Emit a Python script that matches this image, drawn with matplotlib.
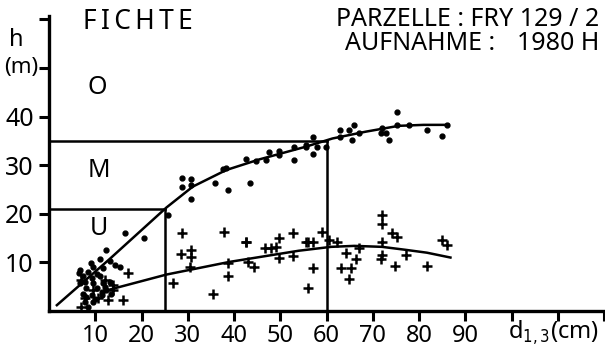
import numpy as np
import matplotlib
matplotlib.use("Agg")
import matplotlib.pyplot as plt

plt.rcParams["font.family"] = "Noto Sans"
plt.rcParams["font.stretch"] = "condensed"
plt.rcParams["font.size"] = 15

# upper points: tree heights (dots)
dot_d = [28.8, 30.7, 28.8, 30.7, 30.7, 38.6, 43.5, 35.8, 38.3, 46.9, 53.0, 37.6,
         42.6, 44.8, 47.6, 49.8, 49.8, 53.0, 55.5, 57.0, 55.5, 58.0, 57.0, 59.8,
         63.0, 63.0, 64.9, 66.0, 65.6, 67.0, 71.7, 72.8, 73.5, 75.3, 75.3, 77.8,
         81.7, 85.0, 86.0, 72.0, 25.7, 16.5, 20.5,
         12.4, 11.0, 13.1, 14.2, 15.3, 6.7, 8.5, 9.5, 10.3, 11.7, 7.4, 9.2, 11.0,
         7.8, 9.5, 11.7, 13.1, 8.1, 10.3, 12.4, 7.4, 9.2, 11.4, 13.5, 7.8, 9.5,
         8.5, 6.7, 8.0, 10.0, 12.0, 6.5, 9.0, 11.5]
dot_h = [27.3, 27.1, 25.6, 25.9, 23.0, 25.0, 26.3, 26.4, 29.4, 31.1, 31.0, 29.2,
         31.2, 30.9, 32.8, 32.9, 32.0, 33.8, 34.2, 35.7, 33.8, 33.8, 32.3, 33.8,
         35.7, 37.2, 37.2, 38.3, 35.2, 36.7, 36.7, 36.6, 35.2, 40.9, 38.3, 38.3,
         37.2, 36.1, 38.3, 37.6, 19.8, 16.0, 15.0,
         12.6, 10.8, 10.3, 9.5, 9.1, 8.4, 8.1, 9.1, 7.7, 8.8, 7.1, 6.7, 7.1,
         6.0, 5.7, 5.7, 6.0, 4.7, 4.7, 4.3, 3.6, 3.3, 3.3, 3.6, 1.9, 1.9,
         0.9, 5.8, 2.8, 2.5, 5.0, 7.8, 9.8, 4.0]

# lower points: crown base (plus)
plus_d = [28.8, 37.9, 42.5, 49.8, 52.7, 55.5, 28.6, 30.8, 30.8, 30.4, 38.6, 38.6,
          43.0, 44.4, 46.6, 48.0, 49.8, 52.7, 26.8, 35.4, 42.6, 49.0,
          55.9, 57.0, 59.1, 60.5, 62.3, 57.0, 55.9, 64.2, 63.1, 65.2, 64.9, 66.3,
          67.0, 72.0, 72.0, 72.0, 72.0, 71.7, 74.2, 75.3, 74.9, 77.1, 81.7, 85.0,
          86.0,
          17.1, 16.0, 13.9, 12.1, 7.0, 10.6, 12.8, 7.8, 7.0, 9.5, 13.9]
plus_h = [16.1, 16.3, 14.3, 15.0, 16.1, 14.3, 11.7, 12.6, 11.2, 9.1, 9.8, 7.1,
          10.1, 9.1, 12.9, 12.9, 11.0, 11.3, 5.7, 3.6, 14.3, 13.2,
          14.1, 14.1, 16.2, 14.6, 14.1, 8.8, 4.7, 11.9, 8.8, 8.8, 6.6, 10.8,
          12.9, 19.8, 17.9, 14.3, 11.5, 10.6, 16.1, 15.3, 9.3, 11.5, 9.3, 14.6,
          13.6,
          7.8, 2.3, 5.3, 6.4, 6.4, 2.6, 2.3, 2.7, 0.9, 4.3, 4.3]

# fitted curves
up_d = [1.7, 13.0, 25.4, 31.1, 38.3, 45.5, 55.5, 61.3, 68.5, 75.6, 81.0, 86.4]
up_h = [1.2, 10.6, 21.3, 25.6, 29.0, 31.2, 33.8, 35.5, 36.9, 38.1, 38.3, 38.3]
low_d = [12.7, 25.4, 39.0, 54.0, 61.0, 66.0, 72.0, 77.0, 81.7, 86.8]
low_h = [4.3, 7.5, 10.1, 12.4, 13.2, 13.4, 13.2, 12.6, 12.0, 11.0]

xticks = [10, 20, 30, 40, 50, 60, 70, 80, 90, 100, 110, 120]
xlabels = ["10", "20", "30", "40", "50", "60", "70", "80", "90", "", "", ""]
yticks = [10, 20, 30, 40, 50, 60]
ylabels = ["10", "20", "30", "40", "", ""]

fig = plt.figure(figsize=(6.05, 3.51), dpi=100)
ax = fig.add_axes([49/605, 40/351, 555/605, 295/351])
ax.set_xlim(0, 119.6)
ax.set_ylim(0, 60.7)

ax.plot(up_d, up_h, color="black", lw=1.8)
ax.plot(low_d, low_h, color="black", lw=1.8)
ax.plot(dot_d, dot_h, "o", color="black", ms=3.5)
ax.plot(plus_d, plus_h, "+", color="black", ms=7.5, mew=1.8)

# layer boundaries
ax.plot([0, 60], [35, 35], color="black", lw=1.8)
ax.plot([60, 60], [0, 35], color="black", lw=1.8)
ax.plot([0, 25], [21, 21], color="black", lw=1.8)
ax.plot([25, 25], [0, 21], color="black", lw=1.8)

ax.text(10.5, 46, "O", ha="center", va="center", fontsize=18)
ax.text(10.8, 29, "M", ha="center", va="center", fontsize=18)
ax.text(10.8, 17, "U", ha="center", va="center", fontsize=18)

for s in ["top", "right"]:
    ax.spines[s].set_visible(False)
for s in ["left", "bottom"]:
    ax.spines[s].set_linewidth(2.4)
ax.set_xticks(xticks)
ax.set_xticklabels(xlabels)
ax.set_yticks(yticks)
ax.set_yticklabels(ylabels)
ax.tick_params(axis="both", direction="out", length=7, width=2.2)
ax.tick_params(axis="x", labelsize=17, pad=2)
ax.tick_params(axis="y", labelsize=18, pad=4)

fig.text(16/605, 1 - 40/351, "h", ha="center", va="center", fontsize=17)
fig.text(38/605, 1 - 68/351, "(m)", ha="right", va="center", fontsize=16)
fig.text(83/605, 1 - 22/351, "F\u2009I\u2009C\u2009H\u2009T\u2009E", ha="left", va="center", fontsize=19)
fig.text(599/605, 1 - 19/351, "PARZELLE : FRY 129 / 2", ha="right", va="center", fontsize=18)
fig.text(345/605, 1 - 43/351, "AUFNAHME :", ha="left", va="center", fontsize=18)
fig.text(599/605, 1 - 43/351, "1980 H", ha="right", va="center", fontsize=18)
fig.text(508/605, 1 - 333/351, r"d$_{1,3}$(cm)", ha="left", va="center", fontsize=17)

fig.savefig("out.png", dpi=100)
